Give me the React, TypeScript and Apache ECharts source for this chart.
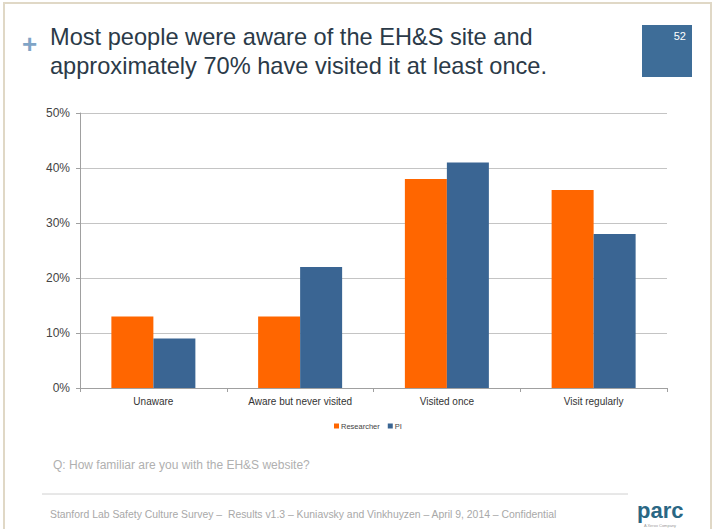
import React, { useEffect, useRef } from "react";
import * as echarts from "echarts";

const categories = ["Unaware", "Aware but never visited", "Visited once", "Visit regularly"];
const researcher = [13, 13, 38, 36];
const pi = [9, 22, 41, 28];
const seriesNames = ["Researcher", "PI"];
const titleLines = [
  "Most people were aware of the EH&S site and",
  "approximately 70% have visited it at least once.",
];
const slideNumber = "52";
const question = "Q: How familiar are you with the EH&S website?";
const footer =
  "Stanford Lab Safety Culture Survey \u2013  Results v1.3 \u2013 Kuniavsky and Vinkhuyzen \u2013 April 9, 2014 \u2013 Confidential";

export default function App() {
  const ref = useRef<HTMLDivElement>(null);
  useEffect(() => {
    if (!ref.current) return;
    const chart = echarts.init(ref.current, undefined, { renderer: "svg" });
    const font = "Liberation Sans, Arial, sans-serif";
    chart.setOption({
      animation: false,
      backgroundColor: "#ffffff",
      textStyle: { fontFamily: font },
      grid: { left: 80, right: 51, top: 113, bottom: 141 },
      legend: {
        data: seriesNames,
        left: 329,
        top: 417,
        icon: "rect",
        itemWidth: 5,
        itemHeight: 5,
        itemGap: 8,
        textStyle: { fontSize: 7.5, color: "#444", padding: [0, 0, 0, -3] },
      },
      xAxis: {
        type: "category",
        data: categories,
        axisLine: { lineStyle: { color: "#a0a0a0" } },
        axisTick: { show: true, length: 4, lineStyle: { color: "#a0a0a0" } },
        axisLabel: { fontSize: 10, color: "#333", margin: 8 },
      },
      yAxis: {
        type: "value",
        min: 0,
        max: 50,
        interval: 10,
        axisLine: { show: true, lineStyle: { color: "#a0a0a0" } },
        axisTick: { show: true, length: 4, lineStyle: { color: "#a0a0a0" } },
        axisLabel: { fontSize: 12, color: "#444", margin: 10, formatter: "{value}%" },
        splitLine: { lineStyle: { color: "#c4c4c4" } },
      },
      series: [
        {
          name: seriesNames[0],
          type: "bar",
          data: researcher,
          barWidth: 42,
          barGap: "0%",
          itemStyle: { color: "#ff6600" },
        },
        {
          name: seriesNames[1],
          type: "bar",
          data: pi,
          barWidth: 42,
          barGap: "0%",
          itemStyle: { color: "#3a6593" },
        },
      ],
      graphic: [
        {
          type: "rect",
          shape: { x: 4, y: 3, width: 707, height: 530 },
          style: { fill: "none", stroke: "#e0d8c6", lineWidth: 2 },
        },
        {
          type: "text",
          x: 22,
          y: 44,
          style: { text: "+", font: "bold 26px " + font, fill: "#7fa4c6", verticalAlign: "middle" },
        },
        {
          type: "text",
          x: 50,
          y: 37,
          style: { text: titleLines[0], font: "23.6px " + font, fill: "#2b3a48", verticalAlign: "middle" },
        },
        {
          type: "text",
          x: 50,
          y: 66,
          style: { text: titleLines[1], font: "23.6px " + font, fill: "#2b3a48", verticalAlign: "middle" },
        },
        {
          type: "rect",
          shape: { x: 642, y: 25, width: 50, height: 52 },
          style: { fill: "#3e6d98" },
        },
        {
          type: "text",
          x: 686,
          y: 36,
          style: { text: slideNumber, font: "11px " + font, fill: "#ffffff", align: "right", verticalAlign: "middle" },
        },
        {
          type: "text",
          x: 53,
          y: 465,
          style: { text: question, font: "12px " + font, fill: "#b0b0b0", verticalAlign: "middle" },
        },
        {
          type: "line",
          shape: { x1: 42, y1: 494, x2: 628, y2: 494 },
          style: { stroke: "#d0d0d0", lineWidth: 1 },
        },
        {
          type: "text",
          x: 50,
          y: 514,
          style: { text: footer, font: "10.4px " + font, fill: "#a8a8a8", verticalAlign: "middle" },
        },
        {
          type: "text",
          x: 637,
          y: 510,
          style: { text: "parc", font: "bold 22px " + font, lineHeight: 18, fill: "#2a6784", verticalAlign: "middle" },
        },
        {
          type: "text",
          x: 660,
          y: 525,
          style: { text: "A Xerox Company", font: "4px " + font, lineHeight: 4, fill: "#999", align: "center", verticalAlign: "middle" },
        },
      ],
    });
    return () => chart.dispose();
  }, []);
  return (
    <div
      ref={ref}
      style={{ position: "absolute", left: 0, top: 0, width: 718, height: 529 }}
    />
  );
}
